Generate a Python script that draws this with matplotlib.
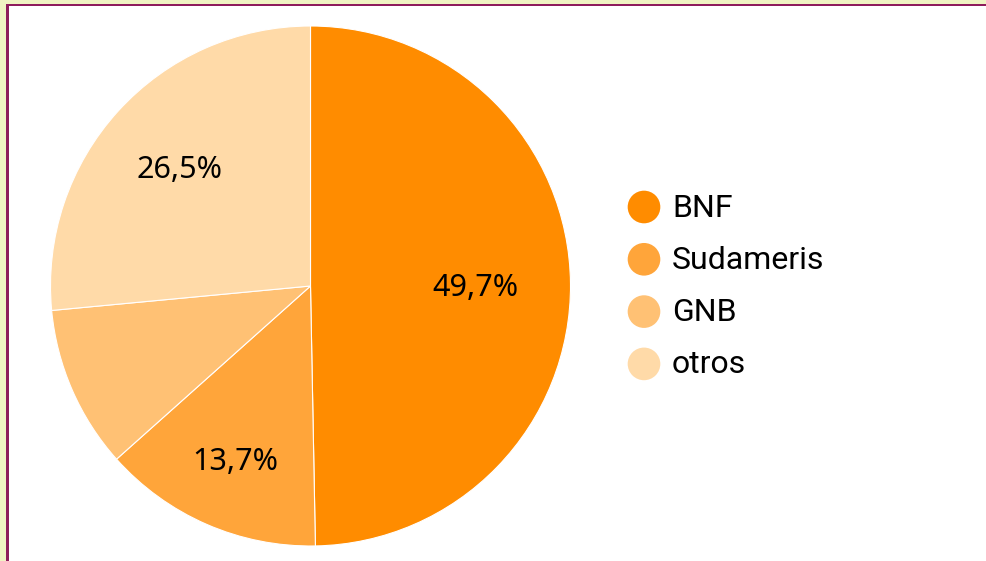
import matplotlib
matplotlib.use("Agg")
import numpy as np
import matplotlib.pyplot as plt
from matplotlib.patches import Rectangle

categories = ["BNF", "Sudameris", "GNB", "otros"]
values = [49.7, 13.7, 10.1, 26.5]
colors = ["#FF8C00", "#FFA53A", "#FFC174", "#FFDAA8"]
label_dist = [0.635, 0.727, 0.7, 0.68]

W, H = 987, 561
fig = plt.figure(figsize=(W / 100, H / 100), dpi=100)
fig.patch.set_facecolor("white")

# frame: yellow strip + purple border on top and left
bg = fig.add_axes([0, 0, 1, 1])
bg.set_xlim(0, W)
bg.set_ylim(H, 0)
bg.axis("off")
bg.add_patch(Rectangle((0, 0), W, 3.5, color="#F0F4C3", lw=0))
bg.add_patch(Rectangle((0, 0), 6, H, color="#F0F4C3", lw=0))
bg.add_patch(Rectangle((6, 3.5), W, 2.7, color="#8E1D5C", lw=0))
bg.add_patch(Rectangle((6, 3.5), 2.7, H, color="#8E1D5C", lw=0))

# pie
cx, cy, r = 310.5, 286, 260
ax = fig.add_axes([(cx - r) / W, (H - cy - r) / H, 2 * r / W, 2 * r / H])
ax.set_aspect("equal")


def fmt(p):
    return (f"{p:.1f}".replace(".", ",") + "%") if p >= 11 else ""


wedges, texts, autotexts = ax.pie(
    values, colors=colors, startangle=90, counterclock=False,
    autopct=fmt, pctdistance=0.7, radius=1,
    wedgeprops=dict(edgecolor="white", linewidth=0.8),
    textprops=dict(fontsize=22, family="Noto Sans", color="black"),
)
for w, t, d in zip(wedges, autotexts, label_dist):
    ang = np.deg2rad((w.theta1 + w.theta2) / 2)
    t.set_position((d * np.cos(ang), d * np.sin(ang) - 0.012))
ax.set_xlim(-1, 1)
ax.set_ylim(-1, 1)

# legend
lx, ly0, dy = 644, 207, 52.3
for i, (cat, col) in enumerate(zip(categories, colors)):
    y = ly0 + i * dy
    bg.scatter([lx], [y], s=(23.5) ** 2, color=col, edgecolors="none", zorder=3)
    bg.text(lx + 28, y + 1, cat, fontsize=23, family="Roboto",
            va="center", ha="left", color="black")

fig.savefig("out.png", dpi=100)
